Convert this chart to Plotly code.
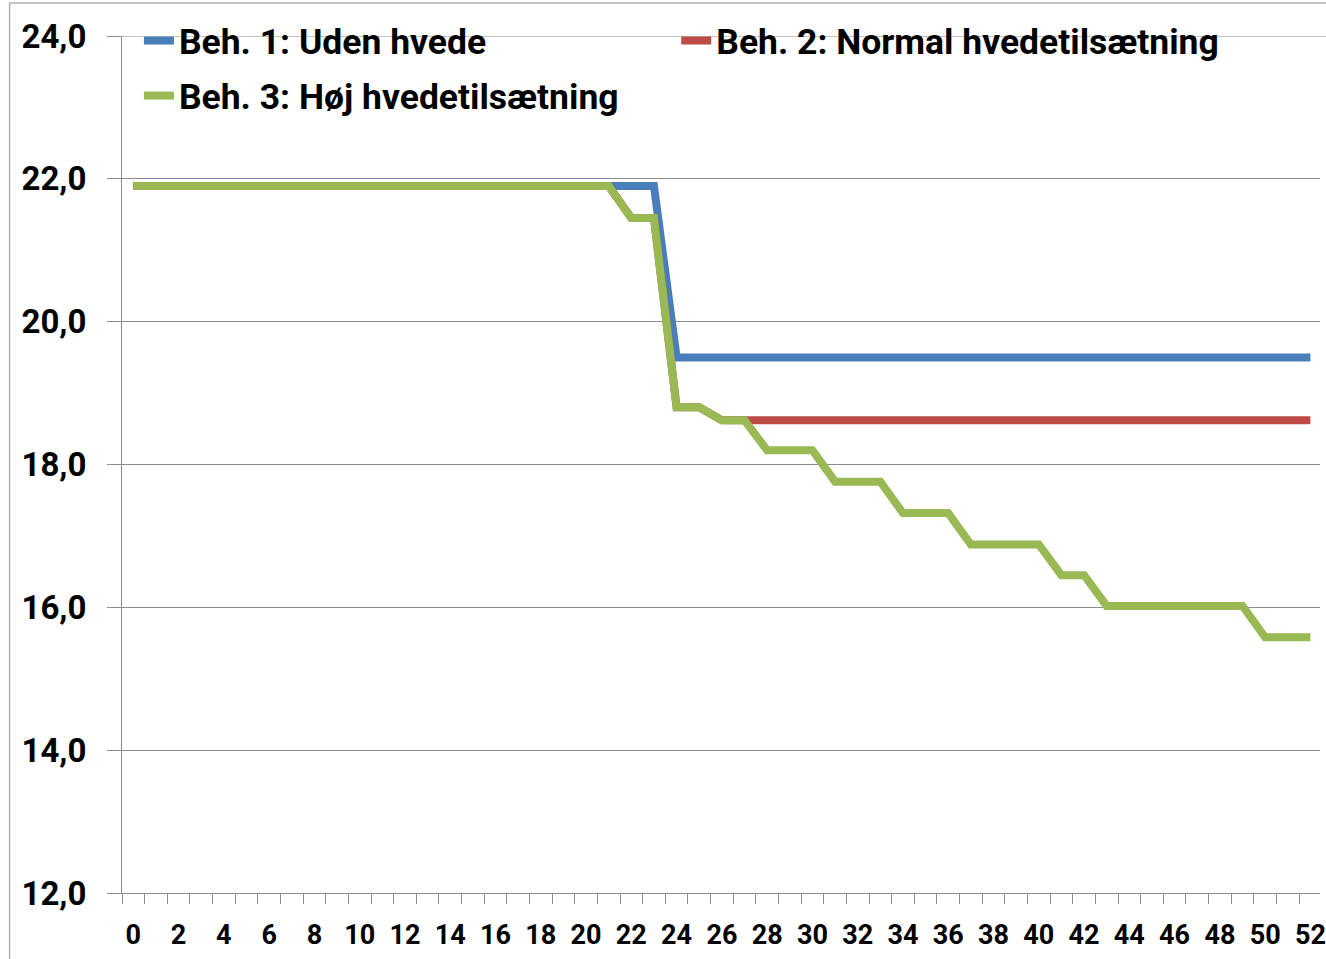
import plotly.graph_objects as go

weeks = list(range(0, 53))

beh1 = [21.9] * 24 + [19.5] * 29
beh2 = [21.9] * 22 + [21.45, 21.45, 18.8, 18.8] + [18.62] * 27
beh3 = ([21.9] * 22 + [21.45, 21.45, 18.8, 18.8, 18.62, 18.62, 18.2, 18.2, 18.2,
        17.76, 17.76, 17.76, 17.32, 17.32, 17.32, 16.88, 16.88, 16.88, 16.88,
        16.45, 16.45, 16.02, 16.02, 16.02, 16.02, 16.02, 16.02, 16.02,
        15.58, 15.58, 15.58])

names = ["Beh. 1: Uden hvede", "Beh. 2: Normal hvedetilsætning", "Beh. 3: Høj hvedetilsætning"]
colors = ["#4A7EBB", "#BE4B48", "#98B954"]
y_ticks = [12, 14, 16, 18, 20, 22, 24]
x_ticks = list(range(0, 53, 2))

W, H = 1326, 959
# plot area in window pixels
PL, PT, PR, PB = 122, 36, 1326, 893
L, T, R, B = PL, PT, W - PR, H - PB
plot_w = PR - PL
plot_h = PB - PT
px_per_week = 22.75

fig = go.Figure()
series = [beh1, beh2, beh3]
legends = ["legend", "legend2", "legend3"]
for name, vals, col, lg in zip(names, series, colors, legends):
    fig.add_trace(go.Scatter(
        x=weeks, y=vals, mode="lines", name=name,
        line=dict(color=col, width=8),
        legend=lg, showlegend=True,
    ))

grid = "#8C8C8C"
font_family = "Roboto"


def py(p):
    return (PB - p) / plot_h


def pxx(p):
    return (p - PL) / plot_w


leg_font = dict(family=font_family, size=35.5, weight="bold", color="black")


def leg(xw, yw):
    return dict(orientation="h", x=pxx(xw), y=py(yw), xanchor="left", yanchor="top",
                font=leg_font, bgcolor="rgba(0,0,0,0)", visible=True)


fig.update_layout(
    width=W, height=H,
    margin=dict(l=L, r=R, t=T, b=B, pad=0),
    paper_bgcolor="white", plot_bgcolor="white",
    separators=",.",
    showlegend=True,
    font=dict(family=font_family, color="black"),
    legend=leg(139, 11),
    legend2=leg(679, 11),
    legend3=leg(139, 66),
    xaxis=dict(
        range=[-0.5, -0.5 + plot_w / px_per_week],
        tickmode="array", tickvals=x_ticks, ticktext=[str(v) for v in x_ticks],
        ticks="", showgrid=False, zeroline=False,
        showline=True, linecolor=grid, linewidth=1,
        tickfont=dict(family=font_family, size=27, weight="bold", color="black"),
        ticklabelstandoff=18, ticklabeloverflow="allow",
        minor=dict(tickmode="linear", tick0=-0.5, dtick=1, ticks="outside",
                   ticklen=10, tickcolor=grid, tickwidth=1, showgrid=False),
    ),
    yaxis=dict(
        range=[12, 24], tickmode="array", tickvals=y_ticks,
        tickformat=".1f",
        ticks="outside", ticklen=14, tickcolor=grid, tickwidth=1,
        showgrid=True, gridcolor=grid, gridwidth=1, zeroline=False,
        showline=True, linecolor=grid, linewidth=1,
        tickfont=dict(family=font_family, size=33, weight="bold", color="black"),
        ticklabelstandoff=14, ticklabeloverflow="allow",
    ),
    shapes=[
        dict(type="line", xref="paper", yref="y", x0=0, x1=1.01,
             y0=y_ticks[-1], y1=y_ticks[-1], line=dict(color=grid, width=1),
             layer="below"),
        dict(type="line", xref="paper", yref="paper", x0=pxx(9), x1=pxx(1340),
             y0=py(3), y1=py(3), line=dict(color="#B0B0B0", width=1.5)),
        dict(type="line", xref="paper", yref="paper", x0=pxx(9), x1=pxx(9),
             y0=py(3), y1=py(970), line=dict(color="#B0B0B0", width=1.5)),
    ],
)

fig.write_html(
    "out.html",
    config={"displayModeBar": False},
    post_script="document.body.style.margin='0';document.body.style.overflow='hidden';",
)
